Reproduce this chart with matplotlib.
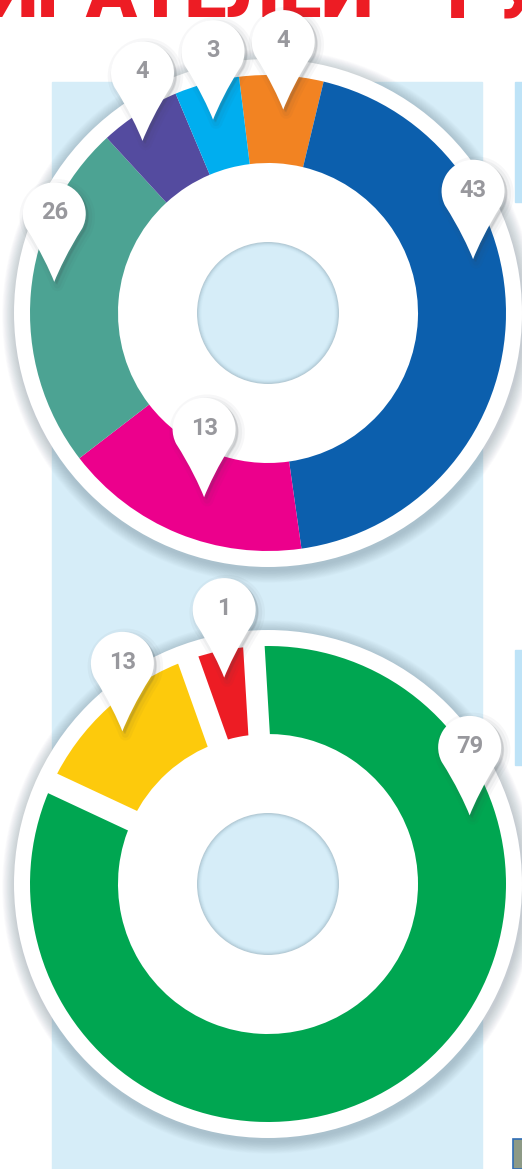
import numpy as np
import matplotlib
matplotlib.use("Agg")
import matplotlib.pyplot as plt
from matplotlib.path import Path
from matplotlib.patches import PathPatch, Circle, Rectangle

# ---------------- data ----------------
top_labels = ["4", "43", "13", "26", "4", "3"]
top_share = [5.7, 44.0, 16.8, 23.6, 5.5, 4.4]        # arc share (%) as drawn
top_colors = ["#f28322", "#0c5fad", "#ec008c", "#4ca393", "#544b9f", "#00aeef"]

bot_labels = ["79", "13", "1"]
bot_share = [82.9, 12.6, 4.5]                        # arc share (%) as drawn
bot_colors = ["#00a651", "#fdca0c", "#ed1c24"]

title_left = "ИРАТЕЛЕЙ"
title_right = "РУ"

# ---------------- layout / style ----------------
W, H = 522, 1169
BG_BLUE = "#d6edf8"
R_OUT, R_IN, R_WHITE, R_HOLE = 238, 150, 254, 71
top_center = (268, H - 313)
bot_center = (268, H - 884)
top_start_cw = -7.0      # clockwise degrees from 12 o'clock
bot_start_cw = -3.4
top_pin_frac = [0.55, 0.39, 0.45, 0.54, 0.33, 0.44]
top_pin_r = [204, 212, 195, 216, 213, 201]
bot_pin_frac = [0.25, 0.47, 0.47]
bot_pin_r = [213, 211, 211]
PIN_R, PIN_L = 31.5, 68

fig = plt.figure(figsize=(W / 100, H / 100), dpi=100)
ax = fig.add_axes([0, 0, 1, 1])
ax.set_axis_off()

# background
ax.add_patch(Rectangle((52, 0), 430, H - 82, color=BG_BLUE, zorder=0))
ax.add_patch(Rectangle((515, H - 202), 10, 120, color="#bee3f7", zorder=0))
ax.add_patch(Rectangle((515, H - 765), 10, 115, color="#bee3f7", zorder=0))
ax.add_patch(Rectangle((512.5, 0), 12, 30, facecolor="#8d9a86", edgecolor="#2f6db5",
                       lw=1.2, zorder=0))

# title (cut off at the top, as in the source page)
ax.text(-14, H - 17, title_left, color="#ed1c24", fontsize=54, fontweight="heavy",
        family="Roboto", ha="left", va="baseline", zorder=1)
ax.text(447, H - 17, title_right, color="#ed1c24", fontsize=54, fontweight="heavy",
        family="Roboto", ha="left", va="baseline", zorder=1)


def pin_path(cx, cy):
    half = np.degrees(np.arcsin(PIN_R / PIN_L))
    a0, a1 = -90 + (90 - half), 270 - (90 - half)
    arc = Path.arc(a0, a1)
    verts = arc.vertices * PIN_R + np.array([cx, cy])
    codes = list(arc.codes)
    A, B = verts[0], verts[-1]
    T = np.array([cx, cy - PIN_L])
    c1 = B + 0.40 * (T - B) + np.array([2.5, 0])
    c2 = B + 0.78 * (T - B) + np.array([1.5, 0])
    c3 = A + 0.78 * (T - A) + np.array([-1.5, 0])
    c4 = A + 0.40 * (T - A) + np.array([-2.5, 0])
    verts = np.vstack([verts, c1, c2, T, c3, c4, A, A])
    codes = codes + [Path.CURVE4] * 6 + [Path.CLOSEPOLY]
    return Path(verts, codes)


def draw_pin(cx, cy, label):
    for dx, dy, lw, a in [(3, -3, 9, 0.04), (3, -3, 5, 0.05), (2, -2, 1, 0.08)]:
        p = pin_path(cx + dx, cy + dy)
        ax.add_patch(PathPatch(p, facecolor="#40474d", edgecolor="#40474d",
                               lw=lw, alpha=a, zorder=6, joinstyle="round"))
    ax.add_patch(PathPatch(pin_path(cx, cy), facecolor="white", edgecolor="none",
                           zorder=7))
    ax.text(cx, cy + 1, label, color="#98989d", fontsize=17, fontweight="bold",
            family="Roboto", ha="center", va="center", zorder=8)


def donut(center, shares, colors, start_cw, labels, fracs, radii, gaps=False):
    cx, cy = center
    # soft shadow around the white ring
    for i in range(16, 0, -1):
        ax.add_patch(Circle((cx + 1, cy - 3), R_WHITE + i * 0.8, color="#5f7584",
                            alpha=0.022, lw=0, zorder=1))
    ax.add_patch(Circle((cx, cy), R_WHITE, color="white", lw=0, zorder=2))
    wedges, _ = ax.pie(shares, colors=colors, radius=R_OUT, center=(cx, cy),
                       startangle=90 - start_cw, counterclock=False,
                       wedgeprops=dict(width=R_OUT - R_IN, linewidth=0))
    for w in wedges:
        w.set_zorder(3)
    if gaps:
        for w in wedges:
            a = np.radians(w.theta1)
            ax.plot([cx + 140 * np.cos(a), cx + 247 * np.cos(a)],
                    [cy + 140 * np.sin(a), cy + 247 * np.sin(a)],
                    color="white", lw=15.5, solid_capstyle="butt", zorder=4)
    # inner small circle with soft inner shadow
    inner_cols = ["#b4cbd6", "#bdd5e1", "#c6dfeb", "#cde6f2", "#d2eaf5", BG_BLUE]
    for k, c in enumerate(inner_cols):
        ax.add_patch(Circle((cx, cy), R_HOLE - k * 0.9, color=c, lw=0, zorder=5))
    # pins
    for w, lab, f, r in zip(wedges, labels, fracs, radii):
        ang = np.radians(w.theta2 - f * (w.theta2 - w.theta1))
        tx, ty = cx + r * np.cos(ang), cy + r * np.sin(ang)
        draw_pin(tx, ty + PIN_L, lab)


donut(top_center, top_share, top_colors, top_start_cw, top_labels, top_pin_frac, top_pin_r)
donut(bot_center, bot_share, bot_colors, bot_start_cw, bot_labels, bot_pin_frac, bot_pin_r,
      gaps=True)

ax.set_xlim(0, W)
ax.set_ylim(0, H)
ax.set_aspect("equal")
fig.savefig("out.png", dpi=100, facecolor="white")
